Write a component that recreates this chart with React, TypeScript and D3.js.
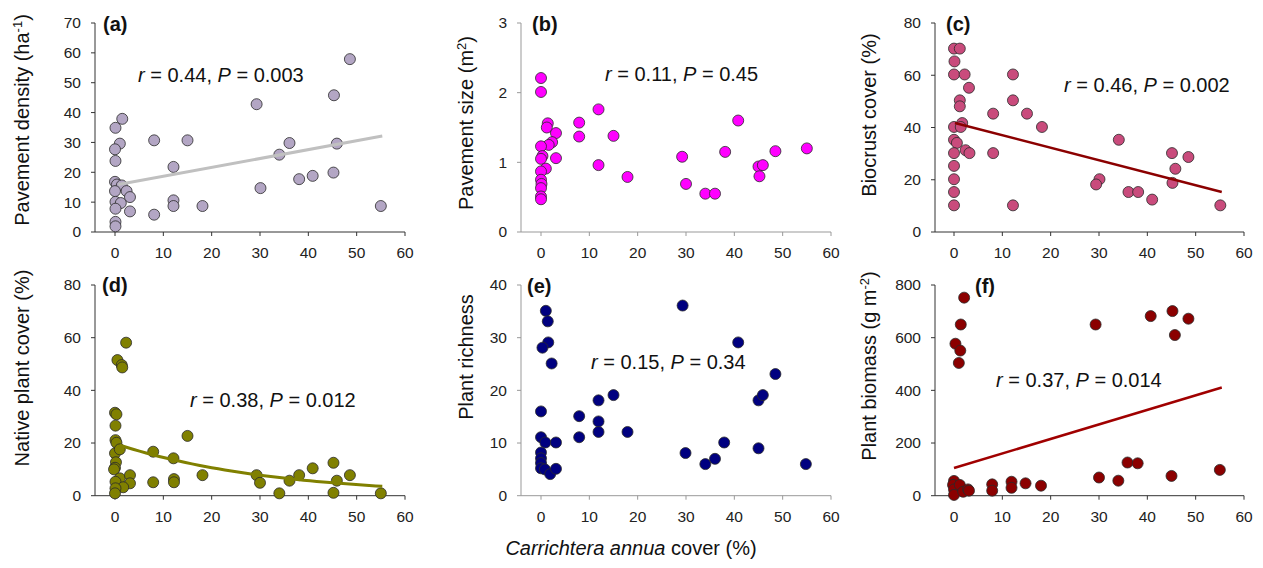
import React from 'react';
import * as d3 from 'd3';

// ---------- data ----------
const xTicks = [0, 10, 20, 30, 40, 50, 60];
const densityTicks = [0, 10, 20, 30, 40, 50, 60, 70];
const sizeTicks = [0, 1, 2, 3];
const biocrustTicks = [0, 20, 40, 60, 80];
const nativeTicks = [0, 20, 40, 60, 80];
const richnessTicks = [0, 10, 20, 30, 40];
const biomassTicks = [0, 200, 400, 600, 800];

const pavementDensity: [number, number][] = [
  [48.6, 57.9], [45.3, 45.8], [29.3, 42.8], [1.5, 37.9], [0.1, 34.9], [1.0, 29.6], [0, 27.7],
  [0.1, 23.8], [8.1, 30.7], [15.0, 30.7], [12.1, 21.8], [36.1, 29.8], [45.9, 29.6], [34.0, 25.9],
  [38.1, 17.7], [40.9, 18.8], [45.2, 19.9], [30.1, 14.7], [55.0, 8.7], [18.1, 8.7], [12.1, 10.6],
  [12.1, 8.7], [8.1, 5.8], [0, 16.8], [0.4, 15.9], [1.4, 15.6], [0, 13.7], [2.4, 13.7], [3.1, 11.7],
  [0.1, 10.1], [1.2, 9.7], [0.1, 7.8], [3.1, 6.9], [0.1, 3.4], [0.1, 1.9],
];

const pavementSize: [number, number][] = [
  [0, 2.21], [0, 2.01], [1.4, 1.56], [1.2, 1.5], [3.1, 1.42], [2.3, 1.29], [1.6, 1.25], [0, 1.23],
  [0.3, 1.09], [0, 1.05], [3.1, 1.06], [1.0, 0.91], [0, 0.87], [0, 0.75], [0.1, 0.69], [0, 0.63],
  [0, 0.51], [0, 0.47], [7.9, 1.57], [7.9, 1.37], [11.9, 1.76], [11.9, 0.96], [15.0, 1.38],
  [17.9, 0.79], [29.2, 1.08], [30.0, 0.69], [34.0, 0.55], [36.0, 0.55], [38.1, 1.15], [40.8, 1.6],
  [45.0, 0.94], [45.9, 0.96], [45.2, 0.8], [48.5, 1.16], [55.0, 1.2],
];

const biocrustCover: [number, number][] = [
  [0, 70.2], [1.2, 70.2], [0.1, 65.3], [0, 60.3], [2.2, 60.3], [3.1, 55.2], [1.2, 50.4], [1.2, 48.1],
  [1.7, 41.7], [0, 40.2], [1.4, 40.2], [0, 35.3], [0.6, 34.1], [2.4, 31.3], [3.2, 30.2], [0, 30.2],
  [0, 25.3], [0, 20.2], [0, 15.3], [0, 10.2], [8.1, 45.3], [8.1, 30.2], [12.2, 60.3], [12.2, 50.4],
  [12.2, 10.2], [15.1, 45.3], [18.2, 40.2], [30.1, 20.2], [29.4, 18.2], [34.1, 35.3], [36.1, 15.3],
  [38.1, 15.3], [41.0, 12.4], [45.1, 30.2], [45.8, 24.2], [45.2, 18.8], [48.5, 28.7], [55.1, 10.2],
];

const nativeCover: [number, number][] = [
  [2.3, 58.1], [0.5, 51.5], [1.4, 49.6], [1.5, 48.7], [0, 31.5], [0.3, 30.9], [0.1, 26.6], [0.1, 21.1],
  [0.3, 20.1], [0, 16.1], [1.0, 17.6], [0.2, 12.7], [0, 10.6], [-0.2, 10.0], [1.0, 6.6], [3.1, 7.8],
  [3.1, 4.7], [0.1, 5.3], [1.7, 3.2], [0.1, 2.8], [0, 0.9], [7.9, 16.7], [7.9, 5.1], [12.1, 14.2],
  [12.2, 6.3], [12.2, 5.1], [15.0, 22.7], [18.1, 7.8], [29.3, 7.8], [30.0, 4.9], [34.0, 0.9],
  [36.1, 5.7], [38.1, 7.8], [40.9, 10.4], [45.2, 12.5], [45.2, 1.1], [45.9, 5.7], [48.6, 7.8], [55.0, 0.9],
];

const plantRichness: [number, number][] = [
  [1.0, 35.1], [1.4, 33.1], [1.5, 29.1], [0.3, 28.1], [2.2, 25.1], [0, 16.0], [0, 11.1], [0.9, 10.1],
  [3.1, 10.1], [0, 8.2], [0, 7.1], [0, 6.2], [0, 5.2], [0.8, 5.0], [1.9, 4.1], [3.1, 5.1],
  [7.9, 15.1], [7.9, 11.1], [11.9, 18.1], [11.9, 14.1], [11.9, 12.1], [15.0, 19.1], [17.9, 12.1],
  [29.3, 36.1], [29.9, 8.1], [34.0, 6.0], [36.0, 7.0], [37.9, 10.1], [40.8, 29.1], [45.0, 18.1],
  [45.9, 19.1], [45.0, 9.0], [48.5, 23.1], [54.8, 6.0],
];

const plantBiomass: [number, number][] = [
  [2.1, 752], [1.4, 650], [0.3, 577], [1.3, 551], [1.0, 504], [29.3, 650], [40.7, 682], [45.2, 701],
  [48.5, 672], [45.7, 610], [35.9, 126], [38.0, 123], [55.0, 98], [45.0, 75], [30.0, 69], [34.0, 57],
  [14.8, 47], [18.0, 38], [11.9, 53], [11.9, 30], [7.9, 43], [7.9, 19], [0, 56], [-0.2, 41], [0, 24],
  [0, 3], [1.2, 41], [1.9, 15], [2.9, 24], [3.1, 19],
];

// fitted relationships (coefficients)
const fitDensity = { type: 'linear', a: 15.7, b: 0.297, from: 0.7, to: 55.3 };
const fitBiocrust = { type: 'linear', a: 41.8, b: -0.478, from: 0.2, to: 55.4 };
const fitNative = { type: 'exp', a: 19.8, b: 0.031, from: 1.0, to: 55.3 };
const fitBiomass = { type: 'linear', a: 105, b: 5.52, from: 0, to: 55.4 };

const statA = ['0.44', '0.003'];
const statB = ['0.11', '0.45'];
const statC = ['0.46', '0.002'];
const statD = ['0.38', '0.012'];
const statE = ['0.15', '0.34'];
const statF = ['0.37', '0.014'];

// ---------- layout ----------
const colAxisX = [95, 521, 935];
const colX0 = [115, 541, 954];
const colX60 = [405, 831, 1244];
const colTitleX = [22, 466, 869];
const rowY0 = [232, 495.7];
const rowYTop = [23, 285];

const FONT = 'Liberation Sans, Arial, sans-serif';

type Panel = {
  col: number; row: number; label: string; labelPos: [number, number];
  title: React.ReactNode; titleY: number;
  ticks: number[]; pts: [number, number][]; fill: string; axis: string;
  fit?: any; fitColor?: string; fitWidth?: number;
  stat: string[]; statPos: [number, number];
};

const panels: Panel[] = [
  {
    col: 0, row: 0, label: '(a)', labelPos: [103, 31],
    title: (<>Pavement density (ha<tspan dy={-7} fontSize={13}>-1</tspan><tspan dy={7}>)</tspan></>), titleY: 120,
    ticks: densityTicks, pts: pavementDensity, fill: '#B3A6C4', axis: '#333',
    fit: fitDensity, fitColor: '#C0C0C0', fitWidth: 3,
    stat: statA, statPos: [138, 82],
  },
  {
    col: 1, row: 0, label: '(b)', labelPos: [532, 31],
    title: (<>Pavement size (m<tspan dy={-7} fontSize={13}>2</tspan><tspan dy={7}>)</tspan></>), titleY: 123,
    ticks: sizeTicks, pts: pavementSize, fill: '#FF00FF', axis: '#999',
    stat: statB, statPos: [605, 81],
  },
  {
    col: 2, row: 0, label: '(c)', labelPos: [946, 31],
    title: <>Biocrust cover (%)</>, titleY: 115,
    ticks: biocrustTicks, pts: biocrustCover, fill: '#C94B7C', axis: '#333',
    fit: fitBiocrust, fitColor: '#8B0000', fitWidth: 2.5,
    stat: statC, statPos: [1064, 92],
  },
  {
    col: 0, row: 1, label: '(d)', labelPos: [102, 292],
    title: <>Native plant cover (%)</>, titleY: 368,
    ticks: nativeTicks, pts: nativeCover, fill: '#808000', axis: '#333',
    fit: fitNative, fitColor: '#808000', fitWidth: 3,
    stat: statD, statPos: [190, 407],
  },
  {
    col: 1, row: 1, label: '(e)', labelPos: [527, 293],
    title: <>Plant richness</>, titleY: 357,
    ticks: richnessTicks, pts: plantRichness, fill: '#000080', axis: '#999',
    stat: statE, statPos: [591, 369],
  },
  {
    col: 2, row: 1, label: '(f)', labelPos: [975, 293],
    title: (<>Plant biomass (g m<tspan dy={-7} fontSize={13}>-2</tspan><tspan dy={7}>)</tspan></>), titleY: 366,
    ticks: biomassTicks, pts: plantBiomass, fill: '#8B0000', axis: '#333',
    fit: fitBiomass, fitColor: '#A00000', fitWidth: 2.5,
    stat: statF, statPos: [996, 387],
  },
];

function PanelView({ p }: { p: Panel }) {
  const x = d3.scaleLinear().domain([0, 60]).range([colX0[p.col], colX60[p.col]]);
  const yMax = p.ticks[p.ticks.length - 1];
  const y = d3.scaleLinear().domain([0, yMax]).range([rowY0[p.row], rowYTop[p.row]]);
  const ax = colAxisX[p.col];
  const y0 = rowY0[p.row];

  let fitPath: string | null = null;
  if (p.fit) {
    const f = p.fit;
    const fn = (v: number) => (f.type === 'linear' ? f.a + f.b * v : f.a * Math.exp(-f.b * v));
    const xs = f.type === 'linear' ? [f.from, f.to] : d3.range(f.from, f.to + 0.001, (f.to - f.from) / 40);
    fitPath = d3.line<number>().x((v) => x(v)).y((v) => y(fn(v)))(xs);
  }

  return (
    <g>
      {/* axes */}
      <line x1={ax} x2={ax} y1={y(yMax)} y2={y0} stroke={p.axis} strokeWidth={1} />
      <line x1={ax} x2={x(60)} y1={y0} y2={y0} stroke={p.axis} strokeWidth={1} />
      {p.ticks.map((t) => (
        <g key={'y' + t}>
          <line x1={ax - 4} x2={ax} y1={y(t)} y2={y(t)} stroke={p.axis} />
          <text x={ax - 14} y={y(t)} dy="0.35em" textAnchor="end" fontSize={15.5} fill="#222">{t}</text>
        </g>
      ))}
      {xTicks.map((t) => (
        <g key={'x' + t}>
          <line x1={x(t)} x2={x(t)} y1={y0} y2={y0 + 4} stroke={p.axis} />
          <text x={x(t)} y={y0 + 21} dy="0.35em" textAnchor="middle" fontSize={15.5} fill="#222">{t}</text>
        </g>
      ))}
      {/* y title */}
      <text transform={`translate(${colTitleX[p.col]},${p.titleY}) rotate(-90)`} textAnchor="middle" dy="0.35em" fontSize={20} fill="#111">
        {p.title}
      </text>
      {/* points */}
      {p.pts.map(([a, b], i) => (
        <circle key={i} cx={x(a)} cy={y(b)} r={5.5} fill={p.fill} stroke="#2a2a2a" strokeWidth={0.8} />
      ))}
      {fitPath && <path d={fitPath} fill="none" stroke={p.fitColor} strokeWidth={p.fitWidth} />}
      {/* panel label */}
      <text x={p.labelPos[0]} y={p.labelPos[1]} fontSize={20} fontWeight="bold" fill="#111">{p.label}</text>
      {/* statistic */}
      <text x={p.statPos[0]} y={p.statPos[1]} fontSize={20} fill="#111">
        <tspan fontStyle="italic">r</tspan> = {p.stat[0]}, <tspan fontStyle="italic">P</tspan> = {p.stat[1]}
      </text>
    </g>
  );
}

export default function App() {
  return (
    <svg width={1263} height={568} style={{ position: 'absolute', left: 0, top: 0, background: '#fff' }} fontFamily={FONT}>
      <rect width={1263} height={568} fill="#fff" />
      {panels.map((p) => <PanelView key={p.label} p={p} />)}
      <text x={631} y={548} dy="0.35em" textAnchor="middle" fontSize={20} fill="#111">
        <tspan fontStyle="italic">Carrichtera annua</tspan> cover (%)
      </text>
    </svg>
  );
}
